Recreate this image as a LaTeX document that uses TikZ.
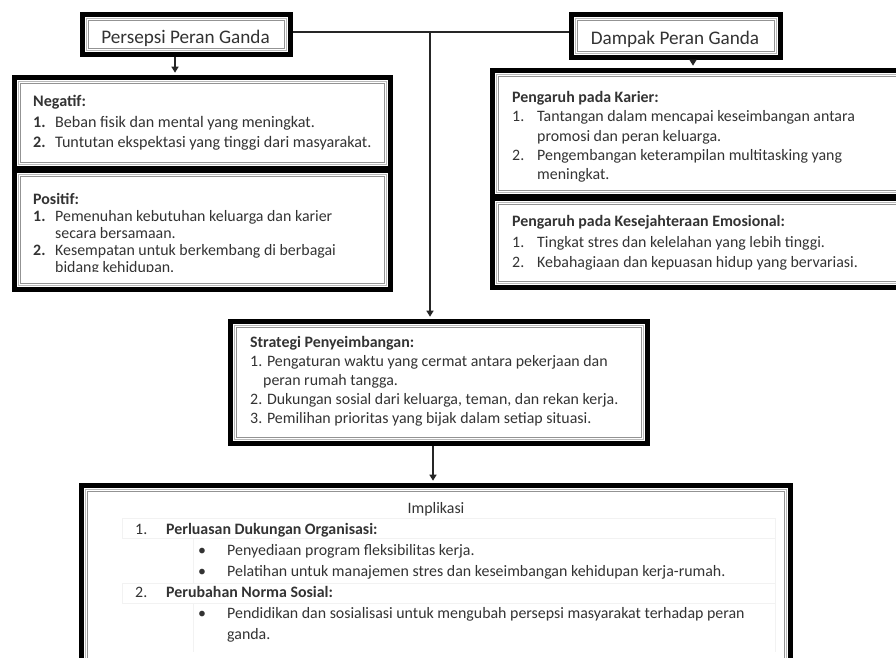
\documentclass[tikz,border=0pt]{standalone}
\usepackage{fontspec}
\setmainfont{Carlito}
\usetikzlibrary{arrows.meta}
\tikzset{
  tribox/.style={draw=black, line width=5pt, fill=white, inner sep=0pt,
    path picture={
      \draw[gray!55, line width=0.8pt] ([shift={(3.8pt,-3.8pt)}]path picture bounding box.north west) rectangle ([shift={(-3.8pt,3.8pt)}]path picture bounding box.south east);
      \draw[gray!85, line width=0.8pt] ([shift={(6.2pt,-6.2pt)}]path picture bounding box.north west) rectangle ([shift={(-6.2pt,6.2pt)}]path picture bounding box.south east);
    }},
  conn/.style={draw=black!85, line width=1.3pt},
  arr/.style={conn, -{Triangle[length=6pt,width=7pt]}, shorten >=2.3pt},
  txt/.style={anchor=base west, inner sep=0pt, align=left, text=black!80},
  ttl/.style={anchor=base, inner sep=0pt, text=black!80, font=\fontsize{19.2}{22}\selectfont},
  faint/.style={draw=gray!10, line width=0.7pt}
}
\newcommand{\nb}[2]{\makebox[#1][l]{#2}}
\begin{document}
\begin{tikzpicture}[x=1pt,y=-1pt]
\useasboundingbox (0,0) rectangle (896,657);
\clip (0,0) rectangle (896,657);
\fill[white] (0,0) rectangle (896,657);

% boxes
\node[tribox, minimum width=208pt, minimum height=40pt] (pers) at (186.5,34.5) {};
\node[tribox, minimum width=209pt, minimum height=43pt] (damp) at (676,36) {};
\node[tribox, minimum width=376pt, minimum height=91pt] (neg) at (202.5,123) {};
\node[tribox, minimum width=376pt, minimum height=119pt] (pos) at (202.5,230) {};
\node[tribox, minimum width=417pt, minimum height=126pt] (kar) at (701,133.5) {};
\node[tribox, minimum width=417pt, minimum height=89pt] (emo) at (701,243) {};
\node[tribox, minimum width=417pt, minimum height=122pt] (mid) at (439,382.5) {};
\node[tribox, minimum width=709pt, minimum height=212pt] (bot) at (436,591.5) {};

% titles
\node[ttl] (perst) at (185.5,43.3) {Persepsi Peran Ganda};
\node[ttl] (dampt) at (675,44.5) {Dampak Peran Ganda};

% connectors
\draw[conn] ([yshift=2.5pt]pers.east) -- ([yshift=4pt]damp.west);
\coordinate (j) at (430,32);
\draw[arr] (j) -- (j |- mid.north);
\draw[arr] ([xshift=-11.5pt]pers.south) -- ([xshift=-11.5pt]pers.south |- neg.north);
\draw[arr] ([xshift=17pt]damp.south) -- ([xshift=17pt]damp.south |- kar.north);
\draw[arr] ([xshift=-6pt]mid.south) -- ([xshift=-6pt]mid.south |- bot.north);

% Negatif (anchor on last baseline)
\node[txt, font=\fontsize{16.1}{20.5}\selectfont] (negt) at (33,147.5) {\textbf{Negatif:}\\
\nb{22pt}{\textbf{1.}}Beban fisik dan mental yang meningkat.\\
\nb{22pt}{\textbf{2.}}Tuntutan ekspektasi yang tinggi dari masyarakat.};

% Positif (clipped)
\begin{scope}
\clip (17,177) rectangle (388,271.5);
\node[txt, font=\fontsize{15.9}{17.2}\selectfont] (post) at (33,272.8) {\textbf{Positif:}\\
\nb{22pt}{\textbf{1.}}Pemenuhan kebutuhan keluarga dan karier\\
\hspace*{22pt}secara bersamaan.\\
\nb{22pt}{\textbf{2.}}Kesempatan untuk berkembang di berbagai\\
\hspace*{22pt}bidang kehidupan.};
\end{scope}

% Karier
\node[txt, font=\fontsize{15.9}{19.25}\selectfont] (kart) at (512,179.5) {\textbf{Pengaruh pada Karier:}\\
\nb{25pt}{1.}Tantangan dalam mencapai keseimbangan antara\\
\hspace*{25pt}promosi dan peran keluarga.\\
\nb{25pt}{2.}Pengembangan keterampilan multitasking yang\\
\hspace*{25pt}meningkat.};

% Emosional
\node[txt, font=\fontsize{15.9}{20.5}\selectfont] (emot) at (512,267.5) {\textbf{Pengaruh pada Kesejahteraan Emosional:}\\
\nb{25pt}{1.}Tingkat stres dan kelelahan yang lebih tinggi.\\
\nb{25pt}{2.}Kebahagiaan dan kepuasan hidup yang bervariasi.};

% Strategi
\node[txt, font=\fontsize{15.9}{19}\selectfont] (midt) at (250,423.5) {\textbf{Strategi Penyeimbangan:}\\
1. Pengaturan waktu yang cermat antara pekerjaan dan\\
\hspace*{13pt}peran rumah tangga.\\
2. Dukungan sosial dari keluarga, teman, dan rekan kerja.\\
3. Pemilihan prioritas yang bijak dalam setiap situasi.};

% Implikasi table lines
\draw[faint] (122,518) -- (775,518);
\draw[faint] (122,538) -- (775,538);
\draw[faint] (122,583) -- (775,583);
\draw[faint] (122,603) -- (775,603);
\draw[faint] (122,518) -- (122,538);
\draw[faint] (122,583) -- (122,603);
\draw[faint] (193,538) -- (193,583);
\draw[faint] (193,603) -- (193,652);
\draw[faint] (775,518) -- (775,652);

\node[anchor=base, inner sep=0pt, text=black!80, font=\fontsize{15.9}{20}\selectfont] (impt) at (436,513.5) {Implikasi};
\node[txt, font=\fontsize{15.9}{21}\selectfont] (bott) at (135,639.5) {\nb{31pt}{1.}\textbf{Perluasan Dukungan Organisasi:}\\
\hspace*{63pt}\nb{29pt}{\textbullet}Penyediaan program fleksibilitas kerja.\\
\hspace*{63pt}\nb{29pt}{\textbullet}Pelatihan untuk manajemen stres dan keseimbangan kehidupan kerja-rumah.\\
\nb{31pt}{2.}\textbf{Perubahan Norma Sosial:}\\
\hspace*{63pt}\nb{29pt}{\textbullet}Pendidikan dan sosialisasi untuk mengubah persepsi masyarakat terhadap peran\\
\hspace*{92pt}ganda.};
\end{tikzpicture}
\end{document}
